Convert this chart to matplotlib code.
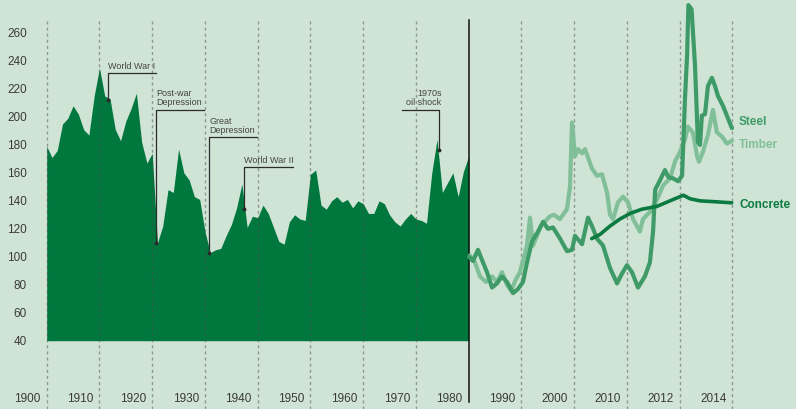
import numpy as np
import matplotlib
matplotlib.use("Agg")
import matplotlib.pyplot as plt

plt.rcParams['font.family'] = ['Liberation Sans', 'DejaVu Sans']
plt.rcParams['lines.scale_dashes'] = False

# ---------------- data ----------------
hist_years = list(range(1900, 1981))
hist_index = [179, 171, 176, 195, 199, 208, 202, 191, 187, 215,
              235, 215, 213, 191, 183, 197, 206, 217, 182, 167,
              174, 110, 122, 148, 146, 177, 160, 155, 143, 141,
              118, 103, 105, 106, 115, 123, 135, 152, 121, 129,
              128, 137, 131, 121, 111, 109, 125, 130, 127, 126,
              159, 162, 137, 134, 140, 143, 139, 141, 135, 140,
              138, 131, 131, 140, 138, 130, 125, 122, 127, 131,
              127, 126, 124, 160, 184, 146, 153, 160, 143, 161,
              172]

timber_t = [1980.25, 1981.19, 1982.14, 1983.28, 1984.42, 1985.36, 1986.31, 1987.26,
            1988.02, 1988.97, 1989.72, 1990.48, 1991.05, 1991.62, 1992.19, 1992.94,
            1993.70, 1994.65, 1995.41, 1996.17, 1997.30, 1998.63, 1999.20, 1999.58,
            2000.15, 2000.72, 2001.48, 2002.05, 2002.62, 2003.37, 2004.32, 2005.27,
            2006.22, 2006.79, 2007.36, 2008.30, 2009.25, 2010.04, 2010.23, 2010.38,
            2010.49, 2010.61, 2010.87, 2011.14, 2011.37, 2011.63, 2011.82, 2012.01,
            2012.20, 2012.31, 2012.50, 2012.66, 2012.73, 2012.88, 2013.07, 2013.26,
            2013.41, 2013.60, 2013.79, 2013.98]
timber_v = [101, 96, 86, 82, 86, 82, 89, 80,
            76, 84, 89, 100, 108, 128, 108, 115,
            122, 126, 129, 130, 127, 134, 150, 196,
            172, 177, 174, 177, 171, 163, 158, 159,
            146, 130, 127, 139, 143, 139, 127, 122,
            118, 127, 132, 141, 151, 156, 168, 175,
            184, 193, 189, 172, 168, 175, 187, 205,
            189, 186, 181, 183]

steel_t = [1980.06, 1980.82, 1981.76, 1982.71, 1983.47, 1984.42, 1985.36, 1986.31,
           1987.26, 1988.40, 1989.35, 1990.29, 1991.05, 1992.00, 1993.14, 1994.09,
           1995.03, 1995.98, 1997.31, 1998.64, 1999.59, 2000.15, 2001.48, 2002.62,
           2003.37, 2004.32, 2005.46, 2006.79, 2008.11, 2009.06, 2010.00, 2010.19,
           2010.42, 2010.68, 2010.87, 2010.99, 2011.07, 2011.26, 2011.44, 2011.57,
           2011.76, 2011.94, 2012.09, 2012.20, 2012.28, 2012.33, 2012.45, 2012.58,
           2012.69, 2012.77, 2012.84, 2012.96, 2013.07, 2013.22, 2013.34, 2013.45,
           2013.64, 2013.83, 2013.98]
steel_v = [100, 97, 105, 96, 89, 78, 81, 86,
           82, 74, 77, 82, 96, 111, 118, 125,
           120, 121, 113, 104, 105, 115, 109, 128,
           122, 113, 108, 92, 81, 88, 94, 89,
           78, 86, 96, 118, 148, 155, 162, 157,
           156, 154, 158, 213, 244, 280, 277, 237,
           182, 180, 201, 202, 222, 228, 222, 215,
           208, 199, 192]

concrete_t = [2003.32, 2004.90, 2006.79, 2008.68, 2010.12, 2010.56, 2011.13,
              2011.63, 2012.14, 2012.39, 2012.77, 2013.40, 2013.97]
concrete_v = [113, 116, 122, 127, 131, 134, 136,
              140, 144, 141.5, 140, 139.3, 138.6]

x_tick_labels = ['1900', '1910', '1920', '1930', '1940', '1950', '1960', '1970',
                 '1980', '1990', '2000', '2010', '2012', '2014']
x_tick_years = [1900, 1910, 1920, 1930, 1940, 1950, 1960, 1970,
                1980, 1990, 2000, 2010, 2012, 2014]
y_ticks = [40, 60, 80, 100, 120, 140, 160, 180, 200, 220, 240, 260]

events = ['World War I', 'Post-war\nDepression', 'Great\nDepression',
          'World War II', '1970s\noil shock']
event_years = [1911.7, 1920.7, 1930.8, 1937.4, 1974.4]
event_end_vals = [212.3, 109.6, 102.7, 134.2, 176.4]
event_bar_vals = [231.2, 205.0, 185.4, 164.0, 205.2]
event_bar_ends = [1920.7, 1929.9, 1939.8, 1946.7, 1967.4]

# ---------------- scale (piecewise time axis) ----------------
brk_years = [1900, 1980, 1990, 2000, 2010, 2012, 2014]
brk_pos = [0, 8, 9, 10, 11, 12, 13]


def pos(t):
    return np.interp(np.asarray(t, dtype=float), brk_years, brk_pos)


BG = '#d0e4d6'
AREA = '#00773d'
STEEL = '#3e9b68'
TIMBER = '#80bf98'
CONCRETE = '#0b7a40'
TXT = '#3a3a3a'

fig = plt.figure(figsize=(7.96, 4.10), dpi=100, facecolor=BG)
ax = fig.add_axes([0, 0, 1, 1])
ax.set_facecolor(BG)
px_u = 52.75
ax.set_xlim(-46.7 / px_u, (796 - 46.7) / px_u)
ax.set_ylim(40 - 68.3 / 1.3985, 40 + 341.7 / 1.3985)
ax.axis('off')

# area
ax.fill_between(pos(hist_years), hist_index, 40, color=AREA, lw=0, zorder=2)

# grid lines
top_v = 40 + (341.7 - 21) / 1.3985
bot_v = 40 - 68.3 / 1.3985
for t in x_tick_years:
    if t == 1980:
        continue
    ax.plot([pos(t), pos(t)], [bot_v, top_v], color='#4d4d4d', alpha=0.5,
            lw=1.0, dashes=(2.2, 2.2), zorder=3)
ax.plot([pos(1980), pos(1980)], [40 - 61.3 / 1.3985, top_v], color='#111111',
        lw=1.1, zorder=4)

# lines
ax.plot(pos(timber_t), timber_v, color=TIMBER, lw=3.0, solid_capstyle='round',
        solid_joinstyle='round', zorder=5)
ax.plot(pos(steel_t), steel_v, color=STEEL, lw=3.0, solid_capstyle='round',
        solid_joinstyle='round', zorder=6)
ax.plot(pos(concrete_t), concrete_v, color=CONCRETE, lw=2.6, solid_capstyle='round',
        solid_joinstyle='round', zorder=7)

# series labels
lab_x = (739 - 46.7) / px_u
ax.text(lab_x, steel_v[-1] + 5, 'Steel', color=STEEL, fontsize=8.5,
        fontweight='bold', ha='left', va='center')
ax.text(lab_x, timber_v[-1] - 2, 'Timber', color=TIMBER, fontsize=8.5,
        fontweight='bold', ha='left', va='center')
ax.text(lab_x, concrete_v[-1] - 0.5, 'Concrete', color=CONCRETE, fontsize=8.5,
        fontweight='bold', ha='left', va='center')

# ticks
for t, lab in zip(x_tick_years, x_tick_labels):
    ax.text(pos(t) - 6 / px_u, 40 - 57.3 / 1.3985, lab, color=TXT, fontsize=8.5,
            ha='right', va='center')
for v in y_ticks:
    ax.text((27 - 46.7) / px_u, v, str(v), color=TXT, fontsize=8.5,
            ha='right', va='center')

# annotations
for i, (lab, yr, ev, bv, be) in enumerate(zip(events, event_years, event_end_vals,
                                               event_bar_vals, event_bar_ends)):
    x0 = float(pos(yr))
    x1 = float(pos(be))
    ax.plot([x1, x0, x0], [bv, bv, ev], color='#2b2b2b', lw=0.9, zorder=8)
    ax.plot([x0], [ev], 'o', color='#2b2b2b', ms=1.8, zorder=8)
    if x1 >= x0:
        ax.annotate(lab, (x0, bv), xytext=(0, 2.5), textcoords='offset points',
                    ha='left', va='bottom', fontsize=6.5, color='#444444',
                    linespacing=1.05, zorder=9)
    else:
        ax.annotate(lab, (x0 + 2.3 / px_u, bv), xytext=(0, 2.5),
                    textcoords='offset points', ha='right', va='bottom',
                    fontsize=6.5, color='#444444', linespacing=1.05,
                    multialignment='right', zorder=9)

fig.savefig('out.png', dpi=100, facecolor=BG)
